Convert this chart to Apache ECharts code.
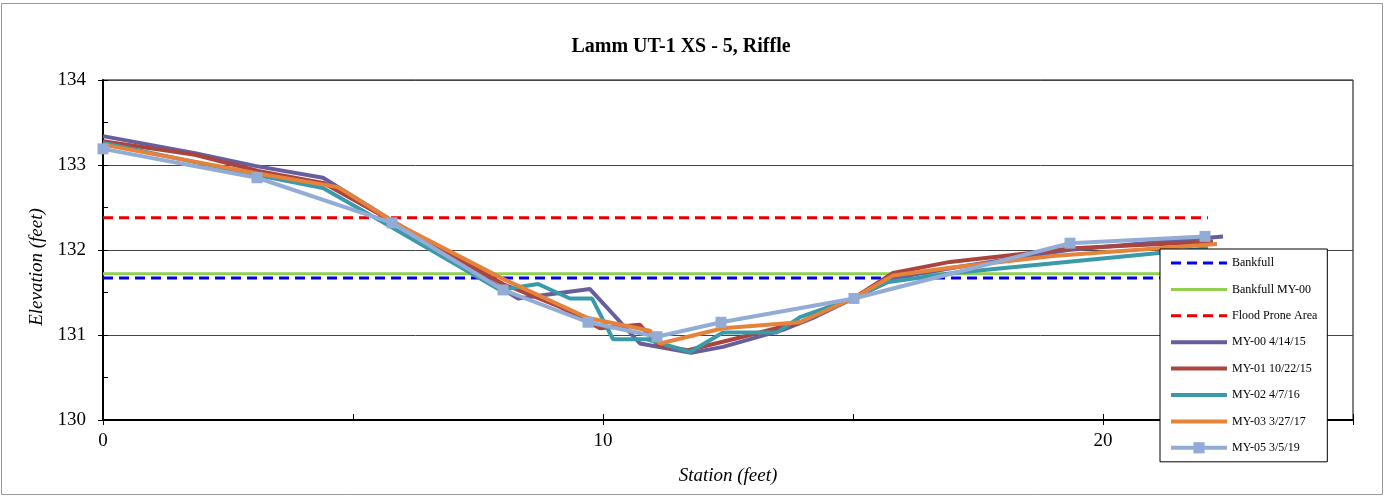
<!DOCTYPE html>
<html>
<head>
<meta charset="utf-8">
<script src="https://cdn.jsdelivr.net/npm/echarts@6/dist/echarts.min.js"></script>
<style>
html,body{margin:0;padding:0;background:#fff;}
#chart{width:1384px;height:496px;}
</style>
</head>
<body>
<div id="chart"></div>
<script>
// ---- data ----
const titleText = 'Lamm UT-1 XS - 5, Riffle';
const xAxisName = 'Station (feet)';
const yAxisName = 'Elevation (feet)';

const refStations = [0, 22.1];
const bankfullElev = 131.67;
const bankfullMY00Elev = 131.72;
const floodProneElev = 132.38;

const my00Station = [0, 1.84, 3.04, 4.4, 5.8, 8.3, 9.74, 10.74, 11.76, 12.4, 13.6, 14.2, 15.0, 15.9, 17.1, 19.3, 22.4];
const my00Elev    = [133.34, 133.14, 132.99, 132.85, 132.34, 131.43, 131.54, 130.9, 130.79, 130.86, 131.06, 131.2, 131.43, 131.68, 131.8, 132.0, 132.16];

const my01Station = [0, 1.84, 3.1, 4.4, 5.9, 8.0, 9.14, 9.94, 10.74, 11.1, 11.7, 12.74, 13.94, 15.0, 15.8, 16.94, 19.4, 22.2];
const my01Elev    = [133.28, 133.12, 132.93, 132.79, 132.3, 131.6, 131.33, 131.08, 131.12, 130.88, 130.82, 130.97, 131.15, 131.43, 131.73, 131.86, 132.02, 132.1];

const my02Station = [0, 3.1, 4.4, 5.8, 7.94, 8.7, 9.34, 9.78, 10.2, 10.88, 11.74, 12.4, 13.48, 13.94, 15.0, 15.68, 17.0, 22.1];
const my02Elev    = [133.26, 132.88, 132.73, 132.26, 131.53, 131.6, 131.43, 131.43, 130.95, 130.95, 130.8, 131.03, 131.03, 131.21, 131.43, 131.62, 131.73, 132.02];

const my03Station = [0, 3.1, 4.7, 5.9, 8.0, 9.7, 10.94, 11.14, 12.4, 13.94, 15.0, 15.8, 16.94, 19.0, 22.28];
const my03Elev    = [133.24, 132.9, 132.74, 132.3, 131.66, 131.2, 131.05, 130.9, 131.08, 131.15, 131.43, 131.7, 131.79, 131.93, 132.07];

const my05Station = [0, 3.08, 5.78, 8.0, 9.7, 11.08, 12.36, 15.02, 19.34, 22.04];
const my05Elev    = [133.19, 132.85, 132.32, 131.53, 131.15, 130.98, 131.15, 131.43, 132.08, 132.16];

const seriesNames = ['Bankfull', 'Bankfull MY-00', 'Flood Prone Area', 'MY-00 4/14/15', 'MY-01 10/22/15', 'MY-02 4/7/16', 'MY-03 3/27/17', 'MY-05 3/5/19'];

// ---- build ----
function pairs(xs, ys) { return xs.map((x, i) => [x, ys[i]]); }
function flat(xs, v) { return xs.map(x => [x, v]); }

const FONT = '"Liberation Serif", "Times New Roman", serif';
const chart = echarts.init(document.getElementById('chart'), null, {renderer: 'canvas'});

function surveyLine(name, data, color) {
  return {
    name, type: 'line', data, symbol: 'none', showSymbol: false,
    lineStyle: {color, width: 4}, itemStyle: {color},
    z: 3, silent: true
  };
}
function refLine(name, data, color, dashed) {
  return {
    name, type: 'line', data, symbol: 'none', showSymbol: false,
    lineStyle: {color, width: 3, type: dashed ? [10, 6] : 'solid'}, itemStyle: {color},
    z: 2, silent: true
  };
}

const legendData = seriesNames.map((n, i) => {
  const w = i < 3 ? 3 : 4;
  return i === seriesNames.length - 1
    ? {name: n, lineStyle: {width: w}}
    : {name: n, itemStyle: {opacity: 0}, lineStyle: {width: w}};
});

const option = {
  animation: false,
  backgroundColor: '#fff',
  title: {
    text: titleText, left: 676, top: 32, textAlign: 'center',
    textStyle: {fontFamily: FONT, fontSize: 20, fontWeight: 'bold', color: '#000'}
  },
  grid: {left: 103, right: 31, top: 80, bottom: 76, show: true, borderColor: '#000', borderWidth: 1, backgroundColor: 'transparent'},
  legend: {
    orient: 'vertical', left: 1160, top: 249,
    backgroundColor: '#fff', borderColor: '#000', borderWidth: 1,
    padding: [8, 10, 8, 9], itemWidth: 56, itemHeight: 14, itemGap: 14.4,
    textStyle: {fontFamily: FONT, fontSize: 12, color: '#000'},
    data: legendData
  },
  xAxis: [{
    type: 'value', min: 0, max: 25, interval: 10,
    name: xAxisName, nameLocation: 'middle', nameGap: 46,
    nameTextStyle: {fontFamily: FONT, fontSize: 19, fontStyle: 'italic', color: '#000'},
    axisLine: {show: true, lineStyle: {color: '#000', width: 2}},
    axisTick: {show: true, inside: false, length: 5, lineStyle: {color: '#000'}},
    axisLabel: {fontFamily: FONT, fontSize: 19, color: '#000', margin: 12,
      formatter: v => (v % 10 === 0 && v < 25) ? String(v) : ''},
    splitLine: {show: false}
  }, {
    type: 'value', min: 0, max: 25, interval: 5, position: 'bottom',
    axisLine: {show: false},
    axisTick: {show: true, inside: true, length: 6, lineStyle: {color: '#000'}},
    axisLabel: {show: false}, splitLine: {show: false}
  }],
  yAxis: [{
    type: 'value', min: 130, max: 134, interval: 1,
    axisLine: {show: true, lineStyle: {color: '#000', width: 2}},
    axisTick: {show: true, inside: false, length: 5, lineStyle: {color: '#000'}},
    axisLabel: {fontFamily: FONT, fontSize: 19, color: '#000', margin: 17},
    splitLine: {show: true, lineStyle: {color: '#444', width: 1}}
  }, {
    type: 'value', min: 130, max: 134, interval: 0.5, position: 'left',
    axisLine: {show: false},
    axisTick: {show: true, inside: true, length: 5, lineStyle: {color: '#000'}},
    axisLabel: {show: false}, splitLine: {show: false}
  }],
  series: [
    refLine(seriesNames[0], flat(refStations, bankfullElev), '#0000FF', true),
    refLine(seriesNames[1], flat(refStations, bankfullMY00Elev), '#92D050', false),
    refLine(seriesNames[2], flat(refStations, floodProneElev), '#E60000', true),
    surveyLine(seriesNames[3], pairs(my00Station, my00Elev), '#675E9E'),
    surveyLine(seriesNames[4], pairs(my01Station, my01Elev), '#A9443F'),
    surveyLine(seriesNames[5], pairs(my02Station, my02Elev), '#3A9AAA'),
    surveyLine(seriesNames[6], pairs(my03Station, my03Elev), '#E5833C'),
    {
      name: seriesNames[7], type: 'line', data: pairs(my05Station, my05Elev),
      symbol: 'rect', symbolSize: 11, showSymbol: true,
      lineStyle: {color: '#93ACD6', width: 4}, itemStyle: {color: '#93ACD6'},
      z: 4, silent: true
    }
  ],
  graphic: [{
    type: 'rect', shape: {x: 1.5, y: 3.5, width: 1381, height: 491},
    style: {fill: 'none', stroke: '#999', lineWidth: 1}, silent: true, z: -1
  }, {
    type: 'text', x: 37, y: 267, rotation: Math.PI / 2,
    style: {text: yAxisName, font: 'italic 19px ' + FONT, fill: '#000', align: 'center', verticalAlign: 'middle'},
    silent: true
  }]
};
chart.setOption(option);
</script>
</body>
</html>
